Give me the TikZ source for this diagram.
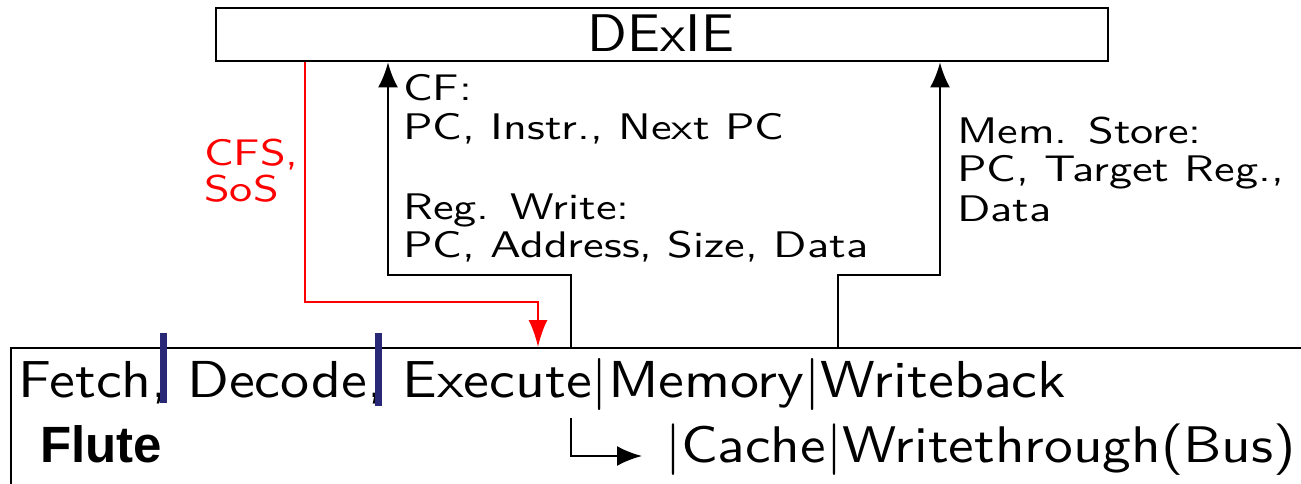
\documentclass[tikz,border=0pt]{standalone}
\usepackage{fontspec}
\newfontfamily\flutefont{Liberation Sans}
\newfontfamily\lblfont[FakeStretch=1.25]{lmsans10-regular.otf}
\newfontfamily\bigfont[FakeStretch=1.115]{lmsans10-regular.otf}
\newfontfamily\titlefont[FakeStretch=1.04]{lmsans10-regular.otf}
\usetikzlibrary{arrows.meta}
\definecolor{barblue}{RGB}{40,40,118}
\definecolor{sigred}{RGB}{255,0,0}
\tikzset{
  lbl/.style={anchor=base west, inner sep=0pt, font=\lblfont\fontsize{37}{40}\selectfont},
  big/.style={anchor=base west, inner sep=0pt, font=\bigfont\fontsize{52}{56}\selectfont},
  boxline/.style={draw=black, line width=2.4pt},
  conn/.style={draw=black, line width=2.4pt, -{Latex[length=25pt,width=20pt]}},
  redconn/.style={draw=sigred, line width=2.4pt, -{Latex[length=27pt,width=19pt]}},
  stagebar/.style={fill=barblue, draw=none},
}
\begin{document}
\begin{tikzpicture}[x=1pt,y=-1pt]
\useasboundingbox (0,0) rectangle (1301,484);
\clip (0,0) rectangle (1301,484);
% boxes
\node[boxline, minimum width=892pt, minimum height=53pt, inner sep=0pt, anchor=north west] (dexie) at (215,7) {};
\node[anchor=base, inner sep=0pt, font=\titlefont\fontsize{53}{56}\selectfont] (dexietext) at (661,52) {DExIE};
\node[boxline, minimum width=1320pt, minimum height=200pt, inner sep=0pt, anchor=north west] (flute) at (10,347) {};
% coordinates
\coordinate (rx) at (305,0);
\coordinate (ry) at (0,302);
\coordinate (rt) at (538,0);
\coordinate (ax) at (571,0);
\coordinate (ay) at (0,275);
\coordinate (at) at (388,0);
\coordinate (bx) at (838,0);
\coordinate (bt) at (940,0);
\coordinate (cs) at (571,418);
\coordinate (ce) at (642,456);
% connectors
\draw[redconn] (rx |- dexie.south) -- (rx |- ry) -| (rt |- flute.north);
\draw[conn] (ax |- flute.north) -- (ax |- ay) -| (at |- dexie.south);
\draw[conn] (bx |- flute.north) -- (bx |- ay) -| (bt |- dexie.south);
\draw[conn] (cs) |- (ce);
% labels
\node[lbl] (cf1) at (403,101) {CF:};
\node[lbl] (cf2) at (403,140) {PC, Instr., Next PC};
\node[lbl] (rw1) at (403,219) {Reg. Write:};
\node[lbl] (rw2) at (403,257) {PC, Address, Size, Data};
\node[lbl] (ms1) at (957,143) {Mem. Store:};
\node[lbl] (ms2) at (957,182) {PC, Target Reg.,};
\node[lbl] (ms3) at (957,221) {Data};
\node[lbl, text=sigred] (cfs1) at (204,165) {CFS,};
\node[lbl, text=sigred] (cfs2) at (204,201) {SoS};
% stage text
\node[big] (stages) at (18,397) {Fetch, Decode, Execute|Memory|Writeback};
\node[big, font=\bigfont\fontsize{51.5}{56}\selectfont] (cache) at (665,462) {|Cache|Writethrough(Bus)};
\node[anchor=base west, inner sep=0pt, font=\flutefont\bfseries\fontsize{51}{54}\selectfont] (flutename) at (40,462) {Flute};
% stage bars
\fill[stagebar] (160,333) rectangle (167,403);
\fill[stagebar] (375,333) rectangle (382,406);
\end{tikzpicture}
\end{document}
